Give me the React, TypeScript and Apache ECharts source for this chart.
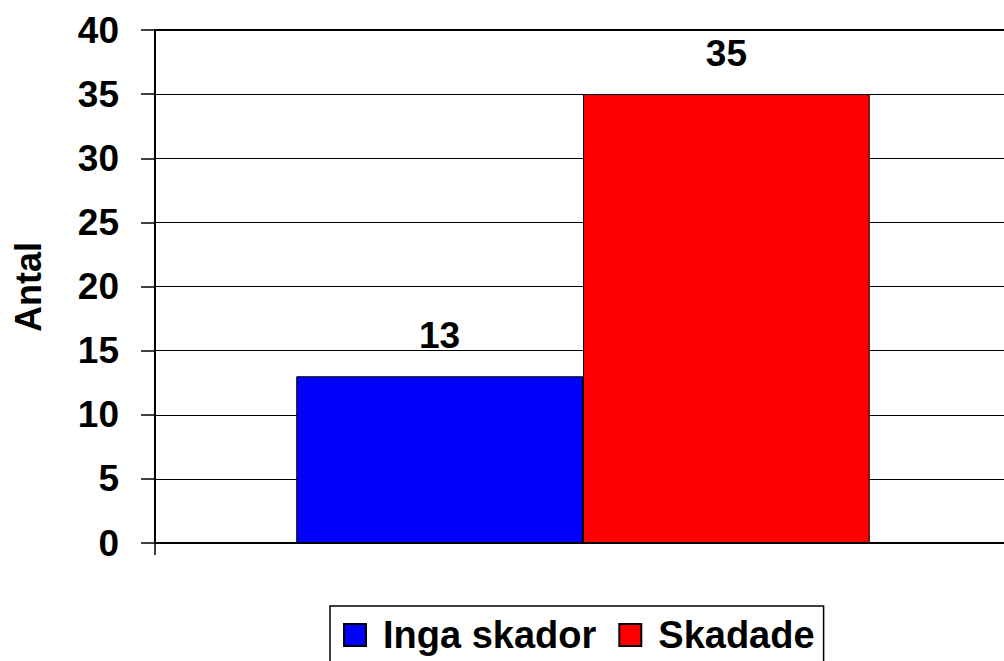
import React, { useEffect, useRef } from "react";
import * as echarts from "echarts";

const categories = ["Antal"];
const seriesNames = ["Inga skador", "Skadade"];
const ingaSkador = [13];
const skadade = [35];
const colors = ["#0000FF", "#FF0000"];
const yMin = 0;
const yMax = 40;
const yInterval = 5;

const FONT = "'Liberation Sans', Arial, sans-serif";

export default function App() {
  const ref = useRef<HTMLDivElement>(null);
  useEffect(() => {
    if (!ref.current) return;
    const chart = echarts.init(ref.current, undefined, { renderer: "svg" });
    const labelStyle = {
      show: true,
      position: "top" as const,
      distance: 22,
      color: "#000",
      fontFamily: FONT,
      fontWeight: "bold" as const,
      fontSize: 37,
    };
    chart.setOption({
      animation: false,
      backgroundColor: "#fff",
      grid: { left: 155, right: 0, top: 30, bottom: 118, containLabel: false },
      legend: {
        left: 330,
        top: 606,
        orient: "horizontal",
        icon: "rect",
        itemWidth: 22,
        itemHeight: 22,
        itemGap: 22,
        padding: [10, 9, 12, 13],
        borderColor: "#000",
        borderWidth: 1.5,
        textStyle: {
          color: "#000",
          fontFamily: FONT,
          fontWeight: "bold",
          fontSize: 38,
          padding: [0, 0, 0, 12],
        },
        data: seriesNames,
      },
      xAxis: [
        {
          type: "category",
          data: categories,
          position: "bottom",
          axisLine: { lineStyle: { color: "#000", width: 2 } },
          axisTick: { show: true, length: 12, lineStyle: { color: "#000", width: 1.5 } },
          axisLabel: { show: false },
        },
        {
          type: "category",
          data: categories,
          position: "top",
          axisLine: { show: true, lineStyle: { color: "#000", width: 2 } },
          axisTick: { show: false },
          axisLabel: { show: false },
        },
      ],
      yAxis: {
        type: "value",
        min: yMin,
        max: yMax,
        interval: yInterval,
        axisLine: { show: true, lineStyle: { color: "#000", width: 2 } },
        axisTick: { show: true, length: 14, lineStyle: { color: "#000", width: 1.5 } },
        axisLabel: {
          color: "#000",
          fontFamily: FONT,
          fontWeight: "bold",
          fontSize: 37,
          margin: 36,
        },
        splitLine: { show: true, lineStyle: { color: "#000", width: 1 } },
      },
      graphic: [
        {
          type: "text",
          rotation: Math.PI / 2,
          x: 28,
          y: 287,
          style: {
            text: "Antal",
            fill: "#000",
            font: `bold 36px ${FONT}`,
            align: "center",
            verticalAlign: "middle",
          },
        },
      ],
      series: [
        {
          name: seriesNames[0],
          type: "bar",
          data: ingaSkador,
          barGap: "0%",
          barCategoryGap: "33%",
          itemStyle: { color: colors[0], borderColor: "#000", borderWidth: 1 },
          label: labelStyle,
        },
        {
          name: seriesNames[1],
          type: "bar",
          data: skadade,
          barGap: "0%",
          barCategoryGap: "33%",
          itemStyle: { color: colors[1], borderColor: "#000", borderWidth: 1 },
          label: labelStyle,
        },
      ],
    });
    return () => chart.dispose();
  }, []);
  return (
    <div
      style={{
        position: "fixed",
        left: 0,
        top: 0,
        width: 1004,
        height: 661,
        overflow: "hidden",
        background: "#fff",
      }}
    >
      <div ref={ref} style={{ width: 1011, height: 661 }} />
    </div>
  );
}
